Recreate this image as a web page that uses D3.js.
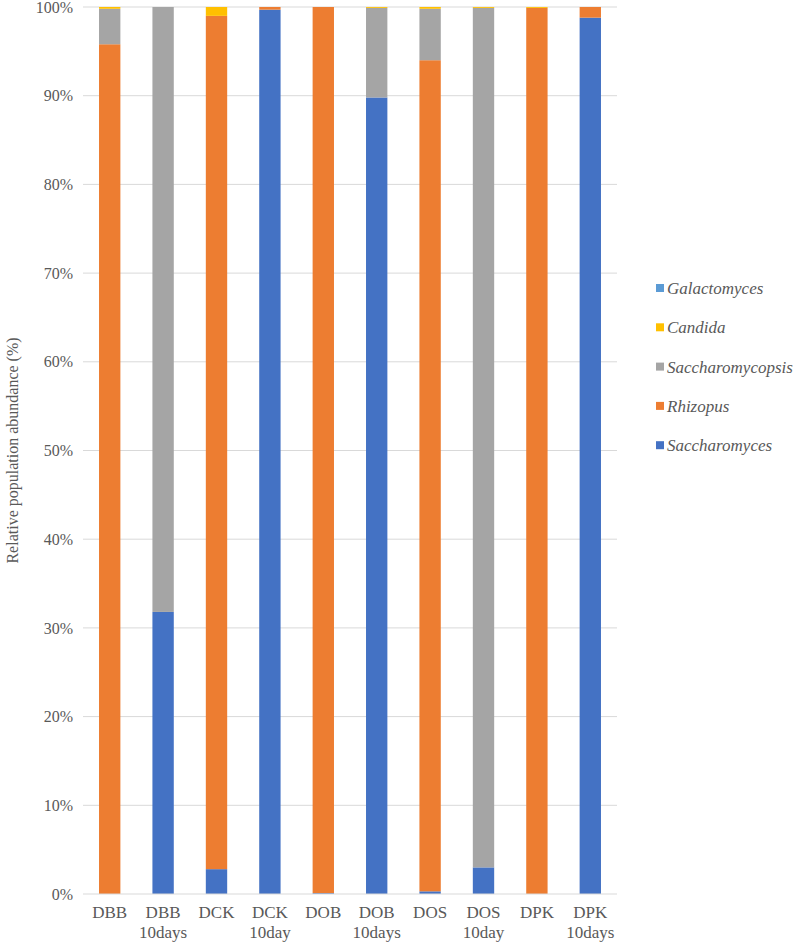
<!DOCTYPE html>
<html><head><meta charset="utf-8">
<script src="https://cdn.jsdelivr.net/npm/d3@7"></script>
<style>body{margin:0;background:#fff}svg{display:block}</style>
</head><body>
<svg id="c" width="800" height="951"></svg>
<script>
const categories = ["DBB","DBB\n10days","DCK","DCK\n10day","DOB","DOB\n10days","DOS","DOS\n10day","DPK","DPK\n10days"];
const seriesNames = ["Saccharomyces","Rhizopus","Saccharomycopsis","Candida","Galactomyces"];
const saccharomyces    = [0.0, 31.8, 2.8, 99.7, 0.1, 89.8, 0.3, 3.0, 0.0, 98.8];
const rhizopus         = [95.8, 0.0, 96.2, 0.3, 99.9, 0.0, 93.7, 0.0, 99.9, 1.2];
const saccharomycopsis = [4.0, 68.2, 0.0, 0.0, 0.0, 10.1, 5.8, 96.9, 0.0, 0.0];
const candida          = [0.2, 0.0, 1.0, 0.0, 0.0, 0.1, 0.2, 0.1, 0.1, 0.0];
const galactomyces     = [0.0, 0.0, 0.0, 0.0, 0.0, 0.0, 0.0, 0.0, 0.0, 0.0];
const yTicks = [0,10,20,30,40,50,60,70,80,90,100];
const colors = ["#4472C4","#ED7D31","#A5A5A5","#FFC000","#5B9BD5"];

const seriesData = [saccharomyces, rhizopus, saccharomycopsis, candida, galactomyces];
const rows = categories.map((c,i)=>{const r={cat:c}; seriesNames.forEach((s,j)=>r[s]=seriesData[j][i]); return r;});
const stack = d3.stack().keys(seriesNames)(rows);

const svg = d3.select("#c");
const L=83, R=617, T=7, B=894;
const x = d3.scaleBand().domain(categories).range([L,R]).paddingInner(0.6).paddingOuter(0.3);
const y = d3.scaleLinear().domain([0,100]).range([B,T]);
const font = "'Liberation Serif','Times New Roman',Times,serif";
const txt = "#595959";

svg.append("g").selectAll("line").data(yTicks.filter(t=>t>0)).join("line")
  .attr("x1",L).attr("x2",R).attr("y1",d=>y(d)).attr("y2",d=>y(d))
  .attr("stroke","#D9D9D9").attr("stroke-width",1);

svg.append("g").selectAll("g").data(stack).join("g").attr("fill",(d,i)=>colors[i])
  .selectAll("rect").data(d=>d).join("rect")
  .attr("x",d=>x(d.data.cat)).attr("width",x.bandwidth())
  .attr("y",d=>y(d[1])).attr("height",d=>Math.max(0,y(d[0])-y(d[1])));

svg.append("line").attr("x1",L).attr("x2",R).attr("y1",B).attr("y2",B).attr("stroke","#D9D9D9").attr("stroke-width",1);

const yAxis = d3.axisLeft(y).tickValues(yTicks).tickFormat(d=>d+"%").tickSize(0).tickPadding(10);
const ya = svg.append("g").attr("transform",`translate(${L},0)`).call(yAxis);
ya.select(".domain").remove();
ya.selectAll("text").attr("font-family",font).attr("font-size",16).attr("fill",txt);

const xAxis = d3.axisBottom(x).tickSize(0).tickFormat("");
const xa = svg.append("g").attr("transform",`translate(0,${B})`).call(xAxis);
xa.select(".domain").remove();
xa.selectAll(".tick").append("text").attr("font-family",font).attr("font-size",17).attr("fill",txt)
  .attr("text-anchor","middle")
  .selectAll("tspan").data(d=>d.split("\n")).join("tspan")
  .attr("x",0).attr("y",(d,i)=>24+i*20).text(d=>d);

svg.append("text").attr("transform",`translate(18,${(T+B)/2}) rotate(-90)`)
  .attr("text-anchor","middle").attr("font-family",font).attr("font-size",16).attr("fill",txt)
  .text("Relative population abundance (%)");

const legendOrder = ["Galactomyces","Candida","Saccharomycopsis","Rhizopus","Saccharomyces"];
const lg = svg.append("g").selectAll("g").data(legendOrder).join("g")
  .attr("transform",(d,i)=>`translate(656,${288+i*39.3})`);
lg.append("rect").attr("x",0).attr("y",-4).attr("width",8).attr("height",8)
  .attr("fill",d=>colors[seriesNames.indexOf(d)]);
lg.append("text").attr("x",11).attr("y",0).attr("dy","0.35em")
  .attr("font-family",font).attr("font-style","italic").attr("font-size",17).attr("fill",txt).text(d=>d);
</script>
</body></html>
